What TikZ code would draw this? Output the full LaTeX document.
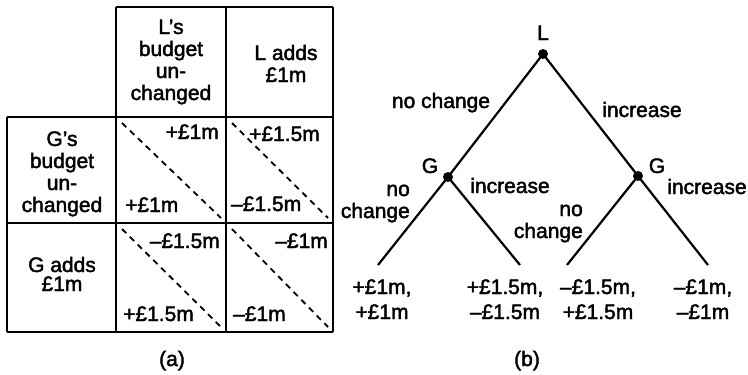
\documentclass[tikz,border=0pt]{standalone}
\usepackage{fontspec}
\setmainfont[FakeBold=2]{Liberation Sans}
\begin{document}
\begin{tikzpicture}[x=1pt,y=-1pt,
  txt/.style={font=\fontsize{21}{22}\selectfont, inner sep=0pt},
  hdr/.style={txt, align=center, anchor=base},
  valr/.style={txt, anchor=base east},
  vall/.style={txt, anchor=base west},
  gridline/.style={line width=2.2pt},
  diag/.style={line width=1.8pt, dash pattern=on 6pt off 5pt},
  dot/.style={circle, fill, inner sep=0pt, minimum size=10pt},
  branch/.style={line width=2.2pt},
  lbl/.style={txt, anchor=base},
  leaf/.style={txt, align=center, anchor=base, font=\fontsize{21}{25}\selectfont}]
\useasboundingbox (0,0) rectangle (748,375);

% ---------- (a) table ----------
\draw[gridline] (116,7) -- (333,7);
\draw[gridline] (7,117) -- (333,117);
\draw[gridline] (7,223) -- (333,223);
\draw[gridline] (7,332) -- (333,332);
\draw[gridline] (7,117) -- (7,332);
\draw[gridline] (116,7) -- (116,332);
\draw[gridline] (226,7) -- (226,332);
\draw[gridline] (333,7) -- (333,332);

% diagonals
\draw[diag] (122,123) -- (221,218);
\draw[diag] (232,123) -- (328,218);
\draw[diag] (122,229) -- (221,327);
\draw[diag] (232,229) -- (328,327);

% headers (base = baseline of last line)
\node[hdr] (hL1) at (171,100) {L’s\\budget\\un-\\changed};
\node[hdr] (hL2) at (286,82) {L adds\\£1m};
\node[hdr] (hG1) at (62,212) {G’s\\budget\\un-\\changed};
\node[hdr, font=\fontsize{21}{19}\selectfont] (hG2) at (62,291) {G adds\\£1m};

% cell values
\node[valr] (v11a) at (219,139) {+£1m};
\node[vall] (v11b) at (125,212) {+£1m};
\node[valr] (v12a) at (320,141) {+£1.5m};
\node[vall] (v12b) at (231,211) {–£1.5m};
\node[valr] (v21a) at (220,248) {–£1.5m};
\node[vall] (v21b) at (123,321) {+£1.5m};
\node[valr] (v22a) at (328,248) {–£1m};
\node[vall] (v22b) at (233,321) {–£1m};

\node[lbl] (capa) at (172,366) {(a)};

% ---------- (b) tree ----------
\node[dot] (L) at (543,54) {};
\node[dot] (GL) at (448,177) {};
\node[dot] (GR) at (638,176) {};
\coordinate (l1) at (378,265);
\coordinate (l2) at (520,265);
\coordinate (l3) at (567,265);
\coordinate (l4) at (708,265);

\draw[branch] (L.center) -- (GL.center);
\draw[branch] (L.center) -- (GR.center);
\draw[branch] (GL.center) -- (l1);
\draw[branch] (GL.center) -- (l2);
\draw[branch] (GR.center) -- (l3);
\draw[branch] (GR.center) -- (l4);

\node[lbl] (tL) at (543,40) {L};
\node[lbl] (tGL) at (430,173) {G};
\node[lbl] (tGR) at (657,173) {G};

\node[lbl] (e1) at (441,108) {no change};
\node[lbl] (e2) at (642,117) {increase};
\node[lbl] (e3) at (510,193) {increase};
\node[lbl] (e4) at (707,194) {increase};
\node[txt, align=right, anchor=base east] (e5) at (410,218) {no\\change};
\node[txt, align=right, anchor=base east] (e6) at (583,238) {no\\change};

\node[leaf] (p1) at (382,319) {+£1m,\\+£1m};
\node[leaf] (p2) at (505,319) {+£1.5m,\\–£1.5m};
\node[leaf] (p3) at (598,319) {–£1.5m,\\+£1.5m};
\node[leaf] (p4) at (703,319) {–£1m,\\–£1m};

\node[lbl] (capb) at (527,366) {(b)};
\end{tikzpicture}
\end{document}
